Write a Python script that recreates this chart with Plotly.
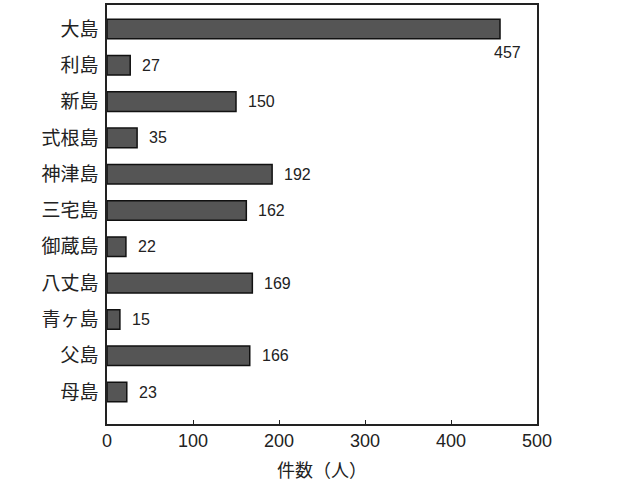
import plotly.graph_objects as go

islands = ["大島", "利島", "新島", "式根島", "神津島", "三宅島", "御蔵島", "八丈島", "青ヶ島", "父島", "母島"]
counts = [457, 27, 150, 35, 192, 162, 22, 169, 15, 166, 23]
x_ticks = [0, 100, 200, 300, 400, 500]

FONT = "Liberation Sans, Arial, Noto Sans CJK JP, sans-serif"

fig = go.Figure()
fig.add_trace(go.Bar(
    x=counts, y=islands, orientation="h", width=0.54,
    marker=dict(color="#555555", line=dict(color="#111111", width=1.5)),
    hoverinfo="x+y",
))

annotations = []
for name, v in zip(islands, counts):
    if v == max(counts):
        annotations.append(dict(x=v, y=name, text=str(v), showarrow=False,
                                xanchor="left", yanchor="middle", xshift=-8, yshift=-24,
                                font=dict(size=16, color="#222", family=FONT)))
    else:
        annotations.append(dict(x=v, y=name, text=str(v), showarrow=False,
                                xanchor="left", yanchor="middle", xshift=10,
                                font=dict(size=16, color="#222", family=FONT)))

fig.update_layout(
    width=618, height=485,
    margin=dict(l=107, r=81, t=5, b=61, autoexpand=False),
    paper_bgcolor="white", plot_bgcolor="white",
    showlegend=False,
    font=dict(family=FONT, color="#222"),
    annotations=annotations,
    xaxis=dict(
        range=[0, 500], tickvals=x_ticks, ticks="inside", ticklen=4, tickcolor="#222",
        showgrid=False, zeroline=False, showline=True, linecolor="#222", linewidth=1.5,
        mirror=True, tickfont=dict(size=18, family=FONT), automargin=False,
        title=dict(text="件数（人）", font=dict(size=18, family=FONT), standoff=14),
        fixedrange=True,
    ),
    yaxis=dict(
        type="category", categoryorder="array", categoryarray=islands,
        range=[10.88, -0.66], ticks="", showgrid=False, zeroline=False,
        showline=True, linecolor="#222", linewidth=1.5, mirror=True,
        tickfont=dict(size=19, family="Noto Sans CJK JP, sans-serif"),
        ticklabelstandoff=3, fixedrange=True, automargin=False,
    ),
)

fig.write_html("out.html", config={"displayModeBar": False},
               post_script="document.body.style.margin='0';")
